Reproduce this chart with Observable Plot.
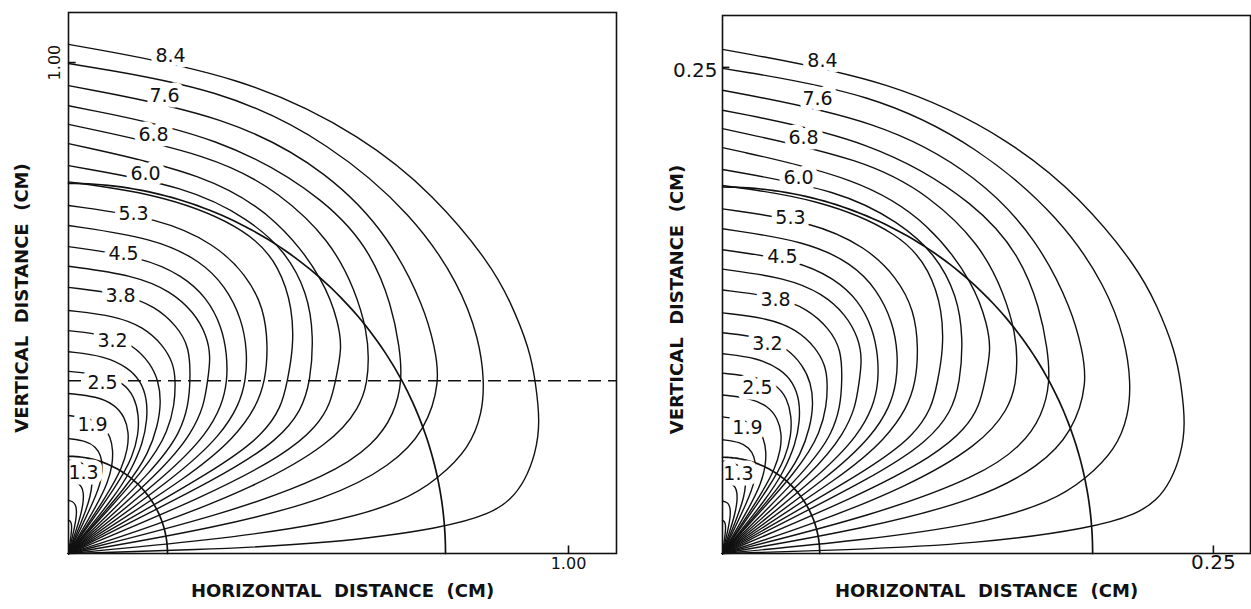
<!DOCTYPE html>
<html><head><meta charset="utf-8">
<script src="https://cdn.jsdelivr.net/npm/d3@7"></script>
<script src="https://cdn.jsdelivr.net/npm/@observablehq/plot@0.6"></script>
<style>
body{margin:0;background:#fff;}
#wrap{display:flex;width:1251px;height:609px;overflow:hidden;background:#fff;}
</style></head><body><div id="wrap"></div>
<script>
// Contours, as [angle from horizontal (deg), distance from origin (cm)] pairs.
// The right panel shows the same family at 1/4 of the size.
const contourReadings = [
  [[90,1.037],[70,1.035],[55,1.034],[45,1.033],[35,1.03],[30,1.022],[24.3,1.012],[20.4,0.997],[15.7,0.98],[12.3,0.956],[9.3,0.926],[7,0.891],[5.5,0.848],[4,0.756],[2.2,0.524],[1.6,0.25],[1.5,0]],
  [[90,0.998],[72,0.996],[57.9,0.986],[45,0.975],[35,0.955],[28,0.93],[22.9,0.903],[19,0.875],[15,0.83],[11.7,0.756],[9,0.68],[6.6,0.528],[5.4,0.28],[5,0]],
  [[90,0.953],[70,0.948],[55.9,0.935],[45,0.91],[35,0.87],[30,0.845],[25.3,0.823],[19.3,0.756],[15.5,0.67],[12.1,0.536],[10,0.3],[9,0]],
  [[90,0.912],[70,0.905],[53.8,0.887],[45,0.86],[38,0.82],[32.5,0.785],[27.8,0.755],[23.5,0.71],[20,0.65],[16.9,0.548],[14.3,0.32],[13,0]],
  [[90,0.874],[70,0.862],[60,0.848],[50.6,0.825],[43,0.785],[37,0.748],[33.5,0.72],[30.5,0.694],[27,0.655],[23.1,0.57],[20,0.4],[18,0.18],[17.5,0]],
  [[90,0.835],[70,0.822],[58,0.80],[47,0.754],[41,0.715],[37.5,0.69],[33.4,0.64],[30.2,0.606],[27.5,0.56],[25,0.48],[23,0.3],[22,0]],
  [[90,0.79],[72,0.785],[62,0.77],[55,0.754],[48,0.715],[42,0.66],[36,0.598],[32,0.55],[29,0.48],[27,0.36],[25.5,0]],
  [[90,0.757],[75,0.756],[61,0.752],[54,0.72],[48,0.67],[43,0.615],[38.8,0.562],[35,0.52],[32,0.46],[30,0.36],[28.5,0]],
  [[90,0.709],[75,0.707],[65,0.695],[58,0.67],[52,0.635],[46.5,0.58],[41.8,0.528],[38.5,0.48],[35.5,0.41],[33,0.3],[31.5,0]],
  [[90,0.668],[75,0.665],[66,0.652],[60,0.628],[54,0.59],[49,0.545],[44.8,0.5],[41.5,0.455],[38.5,0.39],[36,0.28],[34.5,0]],
  [[90,0.625],[76,0.622],[68,0.61],[62,0.59],[56.5,0.555],[52,0.515],[47.9,0.474],[44.5,0.43],[41.5,0.37],[39,0.27],[37,0]],
  [[90,0.585],[77,0.582],[69,0.572],[63,0.552],[58,0.523],[54.5,0.49],[51.7,0.449],[48,0.405],[45,0.35],[42,0.26],[39.5,0]],
  [[90,0.542],[78,0.54],[71,0.532],[65,0.512],[60,0.485],[55.3,0.428],[51.5,0.385],[48,0.335],[45,0.255],[42,0]],
  [[90,0.495],[79,0.493],[72,0.485],[66,0.465],[61.5,0.44],[58.7,0.412],[55,0.37],[51.5,0.32],[48,0.245],[44.5,0]],
  [[90,0.454],[80,0.452],[73,0.444],[67,0.42],[62.9,0.395],[59,0.36],[55.5,0.315],[52,0.26],[49.5,0.19],[47,0]],
  [[90,0.411],[80,0.409],[72.5,0.397],[67.7,0.38],[63.5,0.352],[60,0.315],[56.5,0.27],[53.5,0.21],[51.5,0.15],[50,0]],
  [[90,0.371],[80,0.37],[72.6,0.366],[67.5,0.345],[63.5,0.315],[60,0.28],[57,0.235],[55,0.18],[53,0]],
  [[90,0.326],[80,0.325],[73,0.317],[68,0.3],[64,0.275],[61,0.245],[58.5,0.205],[57,0.15],[56,0]],
  [[90,0.281],[81,0.279],[75,0.27],[70.5,0.252],[67,0.228],[64,0.2],[61.5,0.165],[60,0.12],[59,0]],
  [[90,0.234],[81,0.232],[76,0.224],[72,0.21],[69,0.19],[66.5,0.165],[64.5,0.13],[63,0]],
  [[90,0.19],[82,0.188],[77,0.18],[74,0.168],[71.5,0.15],[69.5,0.125],[68,0.09],[67,0]],
  [[90,0.148],[83,0.146],[79,0.139],[76.5,0.128],[74.5,0.112],[73,0.09],[72,0.06],[71.5,0]],
  [[90,0.108],[85,0.106],[82,0.1],[80,0.092],[78.5,0.08],[77,0.06],[76,0]],
  [[90,0.068],[86.5,0.066],[84.5,0.061],[83,0.053],[82,0.04],[81,0]]
];
const labelText = ["8.4","7.6","6.8","6.0","5.3","4.5","3.8","3.2","2.5","1.9","1.3"];
const labelXL = [0.204,0.192,0.170,0.154,0.130,0.110,0.104,0.088,0.068,0.048,0.030];
const labelYL = [1.014,0.933,0.853,0.774,0.692,0.611,0.525,0.434,0.348,0.261,0.165];
const labelXR = [0.0509,0.0484,0.0413,0.0387,0.0346,0.0305,0.0270,0.0229,0.0178,0.0127,0.0081];
const labelYR = [0.2536,0.2340,0.2135,0.1934,0.1728,0.1523,0.1302,0.1080,0.0854,0.0648,0.0411];
const circleRadii = [0.198,0.754];
const dashedY = 0.352;
const panelScale = [1, 0.25];

function contourPoints(scale){
  const pts=[];
  contourReadings.forEach((c,i)=>c.forEach(([a,r])=>{
    const t=a*Math.PI/180;
    pts.push({id:i,x:r*scale*Math.cos(t),y:r*scale*Math.sin(t)});
  }));
  return pts;
}
function arcPoints(scale){
  const pts=[];
  circleRadii.forEach((r,i)=>{for(let a=0;a<=90;a+=1){const t=a*Math.PI/180;pts.push({id:i,x:r*scale*Math.cos(t),y:r*scale*Math.sin(t)});}});
  return pts;
}
function panel(o){
  const s=o.scale;
  const labels=labelText.map((t,i)=>({t,x:o.lx[i],y:o.ly[i]}));
  const marks=[
    Plot.line(contourPoints(s),{x:"x",y:"y",z:"id",curve:"basis",stroke:"#111",strokeWidth:1.4}),
    Plot.line(arcPoints(s),{x:"x",y:"y",z:"id",stroke:"#111",strokeWidth:1.7}),
  ];
  if(o.dashed) marks.push(Plot.ruleY([dashedY],{stroke:"#111",strokeWidth:1.5,strokeDasharray:"13,7"}));
  marks.push(
    Plot.text(labels,{x:"x",y:"y",text:"t",fill:"#111",stroke:"white",strokeWidth:11,fontSize:19,fontFamily:"DejaVu Sans"}),
    Plot.frame({stroke:"#111",strokeWidth:1.6}),
    Plot.ruleX([o.tick],{y1:0,y2:o.ymax*0.014,stroke:"#111",strokeWidth:1.6}),
    Plot.ruleY([o.tick],{x1:0,x2:o.xmax*0.014,stroke:"#111",strokeWidth:1.6}),
    Plot.text([o.tickLabel],{x:o.tick,frameAnchor:"bottom",dy:15,fontSize:o.tickFont,fontFamily:"DejaVu Sans",fill:"#111"}),
    o.rotY ? Plot.text([o.tickLabel],{y:o.tick,frameAnchor:"left",textAnchor:"middle",dx:-14,rotate:-90,fontSize:o.tickFont,fontFamily:"DejaVu Sans",fill:"#111"})
           : Plot.text([o.tickLabel],{y:o.tick,frameAnchor:"left",dx:-5,dy:3,textAnchor:"end",fontSize:o.tickFont,fontFamily:"DejaVu Sans",fill:"#111"}),
    Plot.text(["HORIZONTAL  DISTANCE  (CM)"],{frameAnchor:"bottom",textAnchor:"middle",dy:43,dx:o.hdx,fontSize:18,fontWeight:"bold",fontFamily:"DejaVu Sans",fill:"#111"}),
    Plot.text(["VERTICAL  DISTANCE  (CM)"],{frameAnchor:"left",textAnchor:"middle",dx:o.vdx,dy:15,rotate:-90,fontSize:18,fontWeight:"bold",fontFamily:"DejaVu Sans",fill:"#111"})
  );
  return Plot.plot({
    width:o.width,height:609,marginLeft:o.ml,marginRight:o.mr,marginTop:o.mt,marginBottom:56,
    x:{domain:[0,o.xmax],axis:null},y:{domain:[0,o.ymax],axis:null},
    style:{background:"white",overflow:"visible"},
    marks
  });
}
const wrap=document.getElementById("wrap");
wrap.appendChild(panel({scale:panelScale[0],width:640,ml:68,mr:24,mt:12,xmax:1.096,ymax:1.102,lx:labelXL,ly:labelYL,dashed:true,tick:1,tickLabel:"1.00",tickFont:16,rotY:true,hdx:0,vdx:-46}));
wrap.appendChild(panel({scale:panelScale[1],width:611,ml:82,mr:1,mt:15,xmax:0.2689,ymax:0.2767,lx:labelXR,ly:labelYR,dashed:false,tick:0.25,tickLabel:"0.25",tickFont:20,rotY:false,hdx:0,vdx:-45}));
</script></body></html>
